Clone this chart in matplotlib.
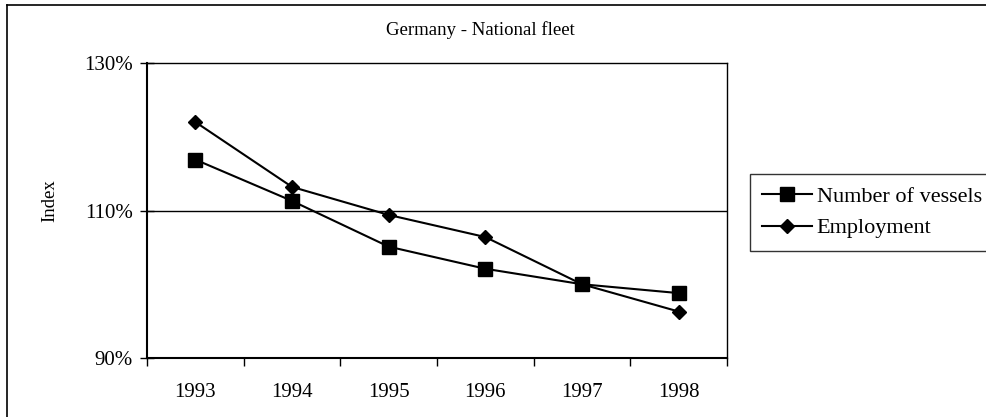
import numpy as np
import matplotlib
matplotlib.use('Agg')
import matplotlib.pyplot as plt
from matplotlib.lines import Line2D

years = ['1993', '1994', '1995', '1996', '1997', '1998']
vessels = [116.9, 111.3, 105.1, 102.1, 100.0, 98.8]
employment = [122.0, 113.2, 109.4, 106.4, 100.0, 96.3]

plt.rcParams['font.family'] = ['Liberation Serif', 'DejaVu Serif']

W, H = 987, 417
fig = plt.figure(figsize=(W / 100, H / 100), dpi=100)
ax = fig.add_axes([147 / W, 1 - 358 / H, 580 / W, 295 / H])

x = np.arange(len(years))
ax.plot(x, vessels, color='black', lw=1.5, marker='s', ms=9.5, label='Number of vessels')
ax.plot(x, employment, color='black', lw=1.5, marker='D', ms=7, label='Employment')

ax.set_xlim(-0.5, len(years) - 0.5)
ax.set_ylim(90, 130)
ax.set_yticks([90, 110, 130])
ax.set_yticklabels(['%d%%' % v for v in [90, 110, 130]], fontsize=15)
ax.axhline(110, color='black', lw=1.0, zorder=0)

ax.set_xticks(np.arange(-0.5, len(years)))
ax.set_xticklabels([])
ax.set_xticks(x, minor=True)
ax.set_xticklabels(years, minor=True, fontsize=15)
ax.tick_params(axis='x', which='major', direction='out', length=6, width=1)
ax.tick_params(axis='x', which='minor', length=0, pad=18)
ax.tick_params(axis='y', direction='inout', length=10, width=1, pad=5)

for s in ax.spines.values():
    s.set_linewidth(1.0)
ax.spines['left'].set_linewidth(1.5)
ax.spines['bottom'].set_linewidth(1.5)

fig.text(50 / W, 1 - 201 / H, 'Index', rotation=90, ha='center', va='center', fontsize=13.5)
fig.text(480 / W, 1 - 30 / H, 'Germany - National fleet', ha='center', va='center', fontsize=13.5)

leg = ax.legend(loc='upper left', bbox_to_anchor=(750 / W, 1 - 174 / H),
                bbox_transform=fig.transFigure, fontsize=16, frameon=True,
                fancybox=False, edgecolor='black', handlelength=2.23,
                borderaxespad=0, handletextpad=0.22, borderpad=0.55, labelspacing=0.5)
leg.get_frame().set_linewidth(1.0)

# outer frame, cut at the right and bottom edges
fig.add_artist(Line2D([7 / W, 7 / W], [0, 1 - 5 / H], transform=fig.transFigure, color='black', lw=1.2))
fig.add_artist(Line2D([7 / W, 1], [1 - 5 / H, 1 - 5 / H], transform=fig.transFigure, color='black', lw=1.2))

fig.savefig('out.png', dpi=100)
